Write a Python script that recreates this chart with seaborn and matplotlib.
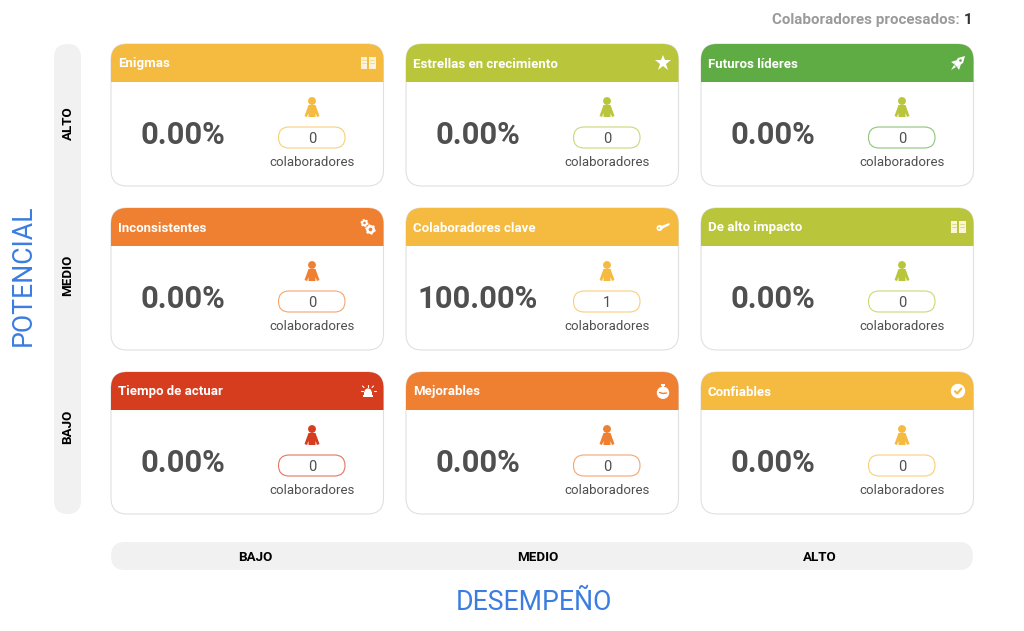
import matplotlib
matplotlib.use("Agg")
import matplotlib.pyplot as plt
import numpy as np
import pandas as pd
import seaborn as sns
from matplotlib.patches import Circle, FancyBboxPatch, Polygon, Rectangle, Wedge

sns.set_theme(style="white")
plt.rcParams["font.family"] = ["Roboto", "DejaVu Sans"]

# --- data ---
titles = ["Enigmas", "Estrellas en crecimiento", "Futuros líderes",
          "Inconsistentes", "Colaboradores clave", "De alto impacto",
          "Tiempo de actuar", "Mejorables", "Confiables"]
percents = [0.0, 0.0, 0.0, 0.0, 100.0, 0.0, 0.0, 0.0, 0.0]
counts = [0, 0, 0, 0, 1, 0, 0, 0, 0]
icons = ["book", "star", "rocket", "gears", "key", "book", "alarm", "watch", "check"]

YELLOW = "#f5bb41"
OLIVE = "#b9c63c"
GREEN = "#5fab44"
ORANGE = "#ef8032"
RED = "#d63d1f"
header_colors = [YELLOW, OLIVE, GREEN, ORANGE, YELLOW, OLIVE, RED, ORANGE, YELLOW]
person_colors = [YELLOW, OLIVE, OLIVE, ORANGE, YELLOW, OLIVE, RED, ORANGE, YELLOW]
pill_colors = [YELLOW, OLIVE, GREEN, ORANGE, YELLOW, OLIVE, RED, ORANGE, YELLOW]

x_levels = ["BAJO", "MEDIO", "ALTO"]
y_levels = ["ALTO", "MEDIO", "BAJO"]
processed = 1

# layout in pixels
card_x = [111, 406, 701]
card_y = [44, 208, 372]
CARD_W, CARD_H, HEAD_H = 272.5, 142, 38

fig = plt.figure(figsize=(10.24, 6.31), dpi=100)
ax = fig.add_axes([0, 0, 1, 1])
ax.set_xlim(0, 1024)
ax.set_ylim(631, 0)
ax.axis("off")


def lighten(color, amount):
    rgb = np.array(matplotlib.colors.to_rgb(color))
    return tuple(rgb + (1 - rgb) * amount)


def rounded(x, y, w, h, r, **kw):
    p = FancyBboxPatch((x, y), w, h, boxstyle=f"round,pad=0,rounding_size={r}", **kw)
    ax.add_patch(p)
    return p


def draw_icon(kind, cx, cy, color):
    w = "white"
    if kind == "book":
        ax.add_patch(Rectangle((cx - 7.5, cy - 6), 6.9, 11.5, color="#fdf3d8", lw=0, zorder=5))
        ax.add_patch(Rectangle((cx + 0.6, cy - 6), 6.9, 11.5, color="#fdf3d8", lw=0, zorder=5))
        for dy in (-3, -0.5):
            ax.plot([cx - 6, cx - 2], [cy + dy] * 2, color=color, lw=0.5, alpha=0.7, zorder=6)
            ax.plot([cx + 2, cx + 6], [cy + dy] * 2, color=color, lw=0.5, alpha=0.7, zorder=6)
    elif kind == "star":
        ax.plot([cx], [cy], marker="*", ms=12, color=w, mew=0, zorder=5)
    elif kind == "rocket":
        ax.add_patch(Polygon([(cx + 7, cy - 7), (cx + 5, cy), (cx - 1, cy + 4), (cx - 4, cy + 1), (cx, cy - 5)],
                             color=w, lw=0, zorder=5))
        ax.add_patch(Polygon([(cx - 1, cy - 3), (cx - 7, cy - 1), (cx - 4, cy + 1)], color=w, lw=0, zorder=5))
        ax.add_patch(Polygon([(cx + 3, cy + 1), (cx + 1, cy + 7), (cx - 1, cy + 4)], color=w, lw=0, zorder=5))
        ax.add_patch(Polygon([(cx - 4, cy + 2), (cx - 2, cy + 4), (cx - 7, cy + 7)], color=w, lw=0, zorder=5))
        ax.add_patch(Circle((cx + 2.5, cy - 2.5), 1.3, color=color, lw=0, zorder=6))
    elif kind == "gears":
        for gx, gy, r in ((cx + 2.5, cy + 2.5, 4.4), (cx - 3.5, cy - 4, 3.1)):
            for a in np.arange(0, 360, 60):
                t = np.deg2rad(a + 15)
                ax.plot([gx, gx + (r + 0.8) * np.cos(t)], [gy, gy + (r + 0.8) * np.sin(t)],
                        color=w, lw=1.5, solid_capstyle="butt", zorder=5)
            ax.add_patch(Circle((gx, gy), r, color=w, lw=0, zorder=5))
            ax.add_patch(Circle((gx, gy), r * 0.42, color=color, lw=0, zorder=6))
    elif kind == "key":
        ax.add_patch(Circle((cx - 3.5, cy + 1), 3, color=w, lw=0, zorder=5))
        ax.add_patch(Circle((cx - 4, cy + 1.2), 0.9, color=color, lw=0, zorder=6))
        ax.add_patch(Polygon([(cx - 2, cy - 1), (cx + 6.5, cy - 4), (cx + 6.5, cy - 2), (cx - 1, cy + 2)],
                             color=w, lw=0, zorder=5))
    elif kind == "alarm":
        ax.add_patch(Wedge((cx, cy + 1), 3.6, 180, 360, color=w, lw=0, zorder=5))
        ax.add_patch(Rectangle((cx - 3.6, cy + 1), 7.2, 2.5, color=w, lw=0, zorder=5))
        ax.add_patch(Rectangle((cx - 5, cy + 4), 10, 2, color=w, lw=0, zorder=5))
        for x0, y0, x1, y1 in ((-5.5, 0, -7.5, 0), (5.5, 0, 7.5, 0), (0, -4.5, 0, -6.5),
                               (-4, -3.5, -5.5, -5), (4, -3.5, 5.5, -5)):
            ax.plot([cx + x0, cx + x1], [cy + y0, cy + y1], color=w, lw=0.8, zorder=5)
    elif kind == "watch":
        ax.add_patch(Circle((cx, cy + 1.8), 6.2, color=w, lw=0, zorder=5))
        ax.add_patch(Rectangle((cx - 2, cy - 7), 4, 1.6, color=w, lw=0, zorder=5))
        ax.add_patch(Rectangle((cx - 0.8, cy - 6), 1.6, 3, color=w, lw=0, zorder=5))
        ax.plot([cx - 3.5, cx, cx + 3.5], [cy + 1.5, cy + 2.5, cy + 2], color=color, lw=1, zorder=6)
    elif kind == "check":
        ax.add_patch(Circle((cx, cy), 7.2, color=w, lw=0, zorder=5))
        ax.plot([cx - 3, cx - 0.8, cx + 3.2], [cy + 0.3, cy + 2.5, cy - 2.2], color=color, lw=1.6, zorder=6)


# --- side and bottom bands ---
rounded(54, 44, 27, 470, 13.5, fc="#f1f1f1", ec="none")
rounded(111, 542, 862, 28, 14, fc="#f1f1f1", ec="none")
for label, y in zip(y_levels, [123, 275, 427]):
    ax.text(68, y, label, rotation=90, ha="center", va="center", fontsize=9.6, fontweight="bold", color="black")
for label, x in zip(x_levels, [255.5, 538, 820]):
    ax.text(x, 560.7, label, ha="center", va="baseline", fontsize=9.6, fontweight="bold", color="black")
ax.text(23, 275, "POTENCIAL", rotation=90, ha="center", va="center", fontsize=19.2, color="#3b7de0")
ax.text(534, 609.5, "DESEMPEÑO", ha="center", va="baseline", fontsize=19.2, color="#3b7de0")

# --- cards ---
rows = []
for i, title in enumerate(titles):
    x0, y0 = card_x[i % 3], card_y[i // 3]
    rows.append({"title": title, "x": x0 + 201, "y": y0 + 57})
    card = rounded(x0, y0, CARD_W, CARD_H, 16, fc="white", ec="#e0e0e0", lw=0.8, zorder=1)
    head = Rectangle((x0, y0), CARD_W, HEAD_H, color=header_colors[i], lw=0, zorder=2)
    ax.add_patch(head)
    head.set_clip_path(card)
    ax.text(x0 + 7, y0 + 23.5, title, ha="left", va="baseline", fontsize=9.5, fontweight="bold", color="white", zorder=5)
    draw_icon(icons[i], x0 + 257, y0 + 19, header_colors[i])

    ax.text(x0 + 71.5, y0 + 100, f"{percents[i]:.2f}%", ha="center", va="baseline",
            fontsize=22.2, fontweight="bold", color="#4f4f4f", zorder=5)

    # person body
    cx, top = x0 + 201, y0 + 61
    ax.add_patch(Polygon([(cx - 3.5, top), (cx + 3.5, top), (cx + 7.5, top + 11), (cx + 5, top + 12),
                          (cx + 3.5, top + 8), (cx + 3.5, top + 12), (cx - 3.5, top + 12),
                          (cx - 3.5, top + 8), (cx - 5, top + 12), (cx - 7.5, top + 11)],
                         color=person_colors[i], lw=0, zorder=3))
    rounded(x0 + 167.5, y0 + 83, 66.5, 21, 10.5, fc="white", ec=lighten(pill_colors[i], 0.3), lw=0.8, zorder=3)
    ax.text(cx, y0 + 99, str(counts[i]), ha="center", va="baseline", fontsize=10.5, color="#4f4f4f", zorder=5)
    ax.text(cx, y0 + 122.5, "colaboradores", ha="center", va="baseline", fontsize=9.55, color="#4f4f4f", zorder=5)

# person heads go through seaborn
heads = pd.DataFrame(rows)
sns.scatterplot(data=heads, x="x", y="y", hue="title", palette=dict(zip(titles, person_colors)),
                s=32, linewidth=0, legend=False, ax=ax, zorder=4)
ax.set_xlim(0, 1024)
ax.set_ylim(631, 0)

# --- top counter ---
ax.text(960, 24, "Colaboradores procesados:", ha="right", va="baseline", fontsize=10.9, fontweight="bold", color="#9a9a9a")
ax.text(964, 24, str(processed), ha="left", va="baseline", fontsize=10.9, fontweight="bold", color="#333333")

fig.savefig("out.png", dpi=100, facecolor="white")
